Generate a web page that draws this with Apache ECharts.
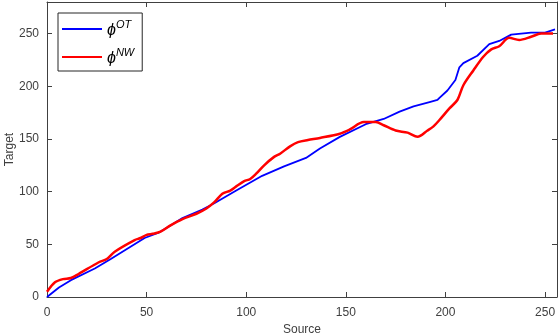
<!DOCTYPE html>
<html>
<head>
<meta charset="utf-8">
<script src="https://cdn.jsdelivr.net/npm/echarts@6/dist/echarts.min.js"></script>
<style>html,body{margin:0;padding:0;background:#fff}#c{width:560px;height:336px}</style>
</head>
<body>
<div id="c"></div>
<script>
var xTicks = [0, 50, 100, 150, 200, 250];
var yTicks = [0, 50, 100, 150, 200, 250];
var seriesNames = ['OT', 'NW'];
var otX = [0, 6, 12, 24, 32, 49, 56, 63, 68, 78, 84, 95, 108, 119, 130, 137, 147, 160, 169, 177, 184, 192, 196, 197, 201, 205, 207, 209, 216, 222, 227, 233, 238, 243, 250, 255];
var otY = [0, 9, 16, 27, 36, 56, 61, 69, 75, 83, 89, 101, 115, 124, 132, 141, 152, 164, 169, 176, 181, 185, 187, 189, 196, 206, 218, 222, 229, 240, 243, 249, 250, 251, 251, 254];
var nwX = [0, 4, 8, 12, 16, 26, 30, 34, 44, 47, 50, 53, 57, 62, 68, 75, 80, 84, 88, 92, 95, 99, 102, 105, 109, 114, 117, 122, 126, 131, 137, 147, 152, 159, 165, 169, 175, 181, 186, 191, 194, 197, 202, 206, 209, 214, 219, 223, 227, 232, 237, 243, 248, 254];
var nwY = [5, 14, 17, 18, 22, 33, 36, 43, 54, 56, 59, 60, 62, 68, 74, 79, 84, 90, 98, 101, 105, 110, 112, 117, 125, 133, 136, 143, 147, 149, 151, 155, 159, 166, 166, 163, 158, 156, 152, 158, 162, 168, 179, 187, 201, 215, 228, 235, 238, 246, 244, 247, 250, 250];

function zip(a, b) { return a.map(function (v, i) { return [v, b[i]]; }); }

var axisCol = '#404040';
var font = 'Liberation Sans, Arial, sans-serif';
var chart = echarts.init(document.getElementById('c'), null, {renderer: 'canvas'});
var baseX = {
  type: 'value', min: 0, max: 256, interval: 50,
  axisLine: {show: true, onZero: false, lineStyle: {color: axisCol, width: 1}},
  axisTick: {show: true, inside: true, length: 5, lineStyle: {color: axisCol}},
  splitLine: {show: false}
};
var baseY = {
  type: 'value', min: 0, max: 280, interval: 50,
  axisLine: {show: true, onZero: false, lineStyle: {color: axisCol, width: 1}},
  axisTick: {show: true, inside: true, length: 5, lineStyle: {color: axisCol}},
  splitLine: {show: false}
};
var labelStyle = {color: '#404040', fontSize: 12, fontFamily: font};
chart.setOption({
  animation: false,
  backgroundColor: '#fff',
  grid: {left: 47, right: 3, top: 2, bottom: 39, containLabel: false, outerBoundsMode: 'none'},
  xAxis: [
    Object.assign({}, baseX, {position: 'bottom', name: 'Source', nameLocation: 'middle', nameGap: 27, nameMoveOverlap: false,
      nameTextStyle: labelStyle, axisLabel: Object.assign({margin: 10, showMaxLabel: false}, labelStyle)}),
    Object.assign({}, baseX, {position: 'top', axisLabel: {show: false}})
  ],
  yAxis: [
    Object.assign({}, baseY, {position: 'left', name: 'Target', nameLocation: 'middle', nameGap: 31, nameMoveOverlap: false,
      nameTextStyle: labelStyle, axisLabel: Object.assign({margin: 8, showMaxLabel: false}, labelStyle)}),
    Object.assign({}, baseY, {position: 'right', axisLabel: {show: false}})
  ],
  legend: {
    left: 58, top: 13, orient: 'vertical',
    backgroundColor: '#fff', borderColor: '#262626', borderWidth: 1,
    padding: [6, 8, 4, 4], itemGap: 8, itemWidth: 40, itemHeight: 2,
    icon: 'rect',
    data: seriesNames,
    formatter: function (n) { return '{a|ϕ}{b|' + n + '}'; },
    textStyle: {
      rich: {
        a: {fontSize: 16, fontFamily: font, fontStyle: 'italic', color: '#000', verticalAlign: 'bottom', lineHeight: 20},
        b: {fontSize: 11, fontFamily: font, fontStyle: 'italic', color: '#000', verticalAlign: 'top', lineHeight: 20, padding: [0, 0, 8, 0]}
      }
    }
  },
  series: [
    {name: seriesNames[0], type: 'line', data: zip(otX, otY), showSymbol: false, symbol: 'none',
      lineStyle: {color: '#0000ff', width: 1.8}, itemStyle: {color: '#0000ff'}, z: 2},
    {name: seriesNames[1], type: 'line', data: zip(nwX, nwY), showSymbol: false, symbol: 'none', smooth: 0.3,
      lineStyle: {color: '#ff0000', width: 2.5}, itemStyle: {color: '#ff0000'}, z: 3}
  ]
});
</script>
</body>
</html>
